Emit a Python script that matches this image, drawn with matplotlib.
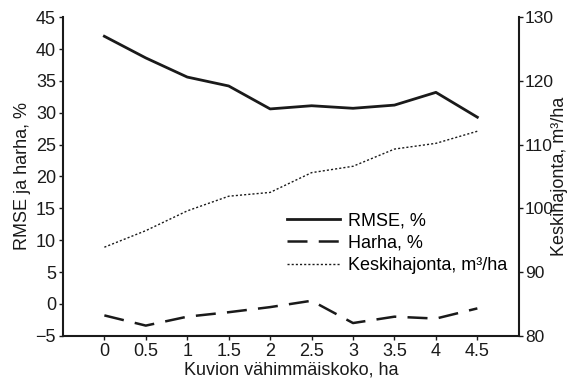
import matplotlib
matplotlib.use("Agg")
import matplotlib.pyplot as plt

plt.rcParams['font.family'] = ['Liberation Sans', 'DejaVu Sans']

x_vals = [0, 0.5, 1, 1.5, 2, 2.5, 3, 3.5, 4, 4.5]
x_labels = ["0", "0.5", "1", "1.5", "2", "2.5", "3", "3.5", "4", "4.5"]
rmse = [42.0, 38.6, 35.6, 34.2, 30.6, 31.1, 30.7, 31.2, 33.2, 29.3]
harha = [-1.8, -3.4, -2.0, -1.3, -0.5, 0.5, -3.0, -2.0, -2.3, -0.7]
keskihajonta = [93.9, 96.5, 99.6, 101.9, 102.5, 105.6, 106.6, 109.3, 110.2, 112.1]

fig = plt.figure(figsize=(5.72, 3.9), dpi=100)
ax = fig.add_axes([0.110, 0.139, 0.797, 0.817])
ax2 = ax.twinx()

c = '#1a1a1a'
l1, = ax.plot(x_vals, rmse, color=c, lw=2.0, label='RMSE, %')
l2, = ax.plot(x_vals, harha, color=c, lw=1.8, dashes=(8, 4.5), label='Harha, %')
l3, = ax2.plot(x_vals, keskihajonta, color=c, lw=1.0, linestyle=(0, (1.5, 1.5)),
               label='Keskihajonta, m³/ha')

ax.set_xlim(-0.5, 5.0)
ax.set_ylim(-5, 45)
ax2.set_ylim(80, 130)
ax.set_yticks(range(-5, 46, 5))
ax.set_yticklabels(['\u22125'] + [str(v) for v in range(0, 46, 5)])
ax2.set_yticks(range(80, 131, 10))
ax.set_xticks(x_vals)
ax.set_xticklabels(x_labels)

for a in (ax, ax2):
    a.spines['top'].set_visible(False)
    for s in a.spines.values():
        s.set_linewidth(1.5)
        s.set_color(c)
    a.tick_params(direction='out', length=3, width=1.0, labelsize=13, colors=c, pad=2)
ax2.tick_params(labelsize=12.5, pad=1.5)
ax2.spines['left'].set_visible(False)
ax2.spines['bottom'].set_visible(False)
ax.spines['right'].set_visible(False)

ax.set_ylabel('RMSE ja harha, %', fontsize=13, color=c, labelpad=3)
ax2.set_ylabel('Keskihajonta, m³/ha', fontsize=13, color=c)
ax2.yaxis.set_label_coords(1.071, 0.5)
ax.set_xlabel('Kuvion vähimmäiskoko, ha', fontsize=13, color=c, labelpad=1)

leg = ax.legend(handles=[l1, l2, l3], loc='upper left', bbox_to_anchor=(0.476, 0.41),
                frameon=False, fontsize=13, handlelength=2.9, handletextpad=0.45,
                labelspacing=0.3, borderaxespad=0)

fig.savefig('out.png', dpi=100)
